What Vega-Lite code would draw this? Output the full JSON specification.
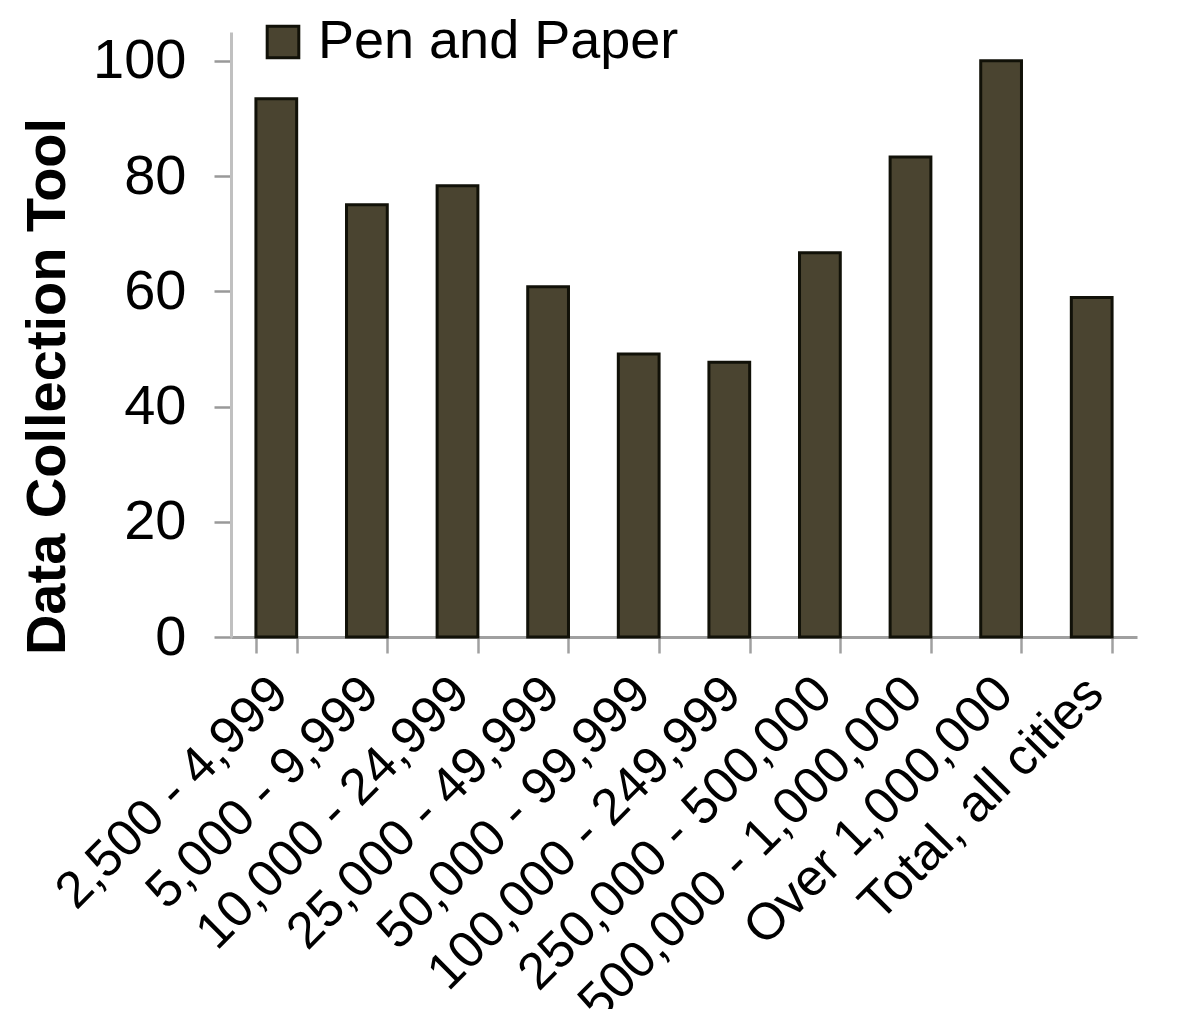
{
  "$schema": "https://vega.github.io/schema/vega-lite/v6.json",
  "width": 906,
  "height": 605,
  "autosize": {"type": "none"},
  "padding": {"left": 231, "top": 32, "right": 67, "bottom": 372},
  "background": "white",
  "config": {
    "view": {"stroke": null},
    "font": "Liberation Sans"
  },
  "data": {
    "values": [
      {"size": "2,500 - 4,999", "pct": 93.4, "series": "Pen and Paper"},
      {"size": "5,000 - 9,999", "pct": 75.0, "series": "Pen and Paper"},
      {"size": "10,000 - 24,999", "pct": 78.3, "series": "Pen and Paper"},
      {"size": "25,000 - 49,999", "pct": 60.8, "series": "Pen and Paper"},
      {"size": "50,000 - 99,999", "pct": 49.1, "series": "Pen and Paper"},
      {"size": "100,000 - 249,999", "pct": 47.7, "series": "Pen and Paper"},
      {"size": "250,000 - 500,000", "pct": 66.7, "series": "Pen and Paper"},
      {"size": "500,000 - 1,000,000", "pct": 83.3, "series": "Pen and Paper"},
      {"size": "Over 1,000,000", "pct": 100, "series": "Pen and Paper"},
      {"size": "Total, all cities", "pct": 58.9, "series": "Pen and Paper"}
    ]
  },
  "mark": {"type": "bar", "stroke": "#111108", "strokeWidth": 3},
  "encoding": {
    "x": {
      "field": "size",
      "type": "nominal",
      "sort": null,
      "scale": {"paddingInner": 0.55, "paddingOuter": 0.275},
      "axis": {
        "title": null,
        "labelAngle": -45,
        "labelFontSize": 51.5,
        "labelColor": "#000000",
        "labelPadding": 14,
        "labelOffset": -15,
        "tickBand": "extent",
        "tickSize": 16,
        "tickColor": "#a0a0a0",
        "tickWidth": 2.5,
        "domainColor": "#a0a0a0",
        "domainWidth": 3,
        "labelOverlap": false,
        "labelLimit": 1000
      }
    },
    "y": {
      "field": "pct",
      "type": "quantitative",
      "scale": {"domain": [0, 105], "nice": false},
      "axis": {
        "title": "Data Collection Tool",
        "titleFontSize": 56,
        "titleFontWeight": "bold",
        "titleColor": "#000000",
        "titlePadding": 16,
        "titleY": 354,
        "titleAlign": "center",
        "values": [0, 20, 40, 60, 80, 100],
        "labelFontSize": 56,
        "labelColor": "#000000",
        "labelPadding": 28,
        "tickSize": 17,
        "tickColor": "#999999",
        "tickWidth": 2.5,
        "domainColor": "#c0c0c0",
        "domainWidth": 3,
        "grid": false
      }
    },
    "color": {
      "field": "series",
      "type": "nominal",
      "scale": {"range": ["#4a4430"]},
      "legend": {
        "title": null,
        "orient": "none",
        "legendX": 25,
        "legendY": -17,
        "symbolType": "square",
        "symbolSize": 1000,
        "symbolStrokeColor": "#111108",
        "symbolStrokeWidth": 3,
        "labelFontSize": 54,
        "labelColor": "#000000",
        "labelOffset": 8,
        "labelLimit": 1000
      }
    }
  }
}
